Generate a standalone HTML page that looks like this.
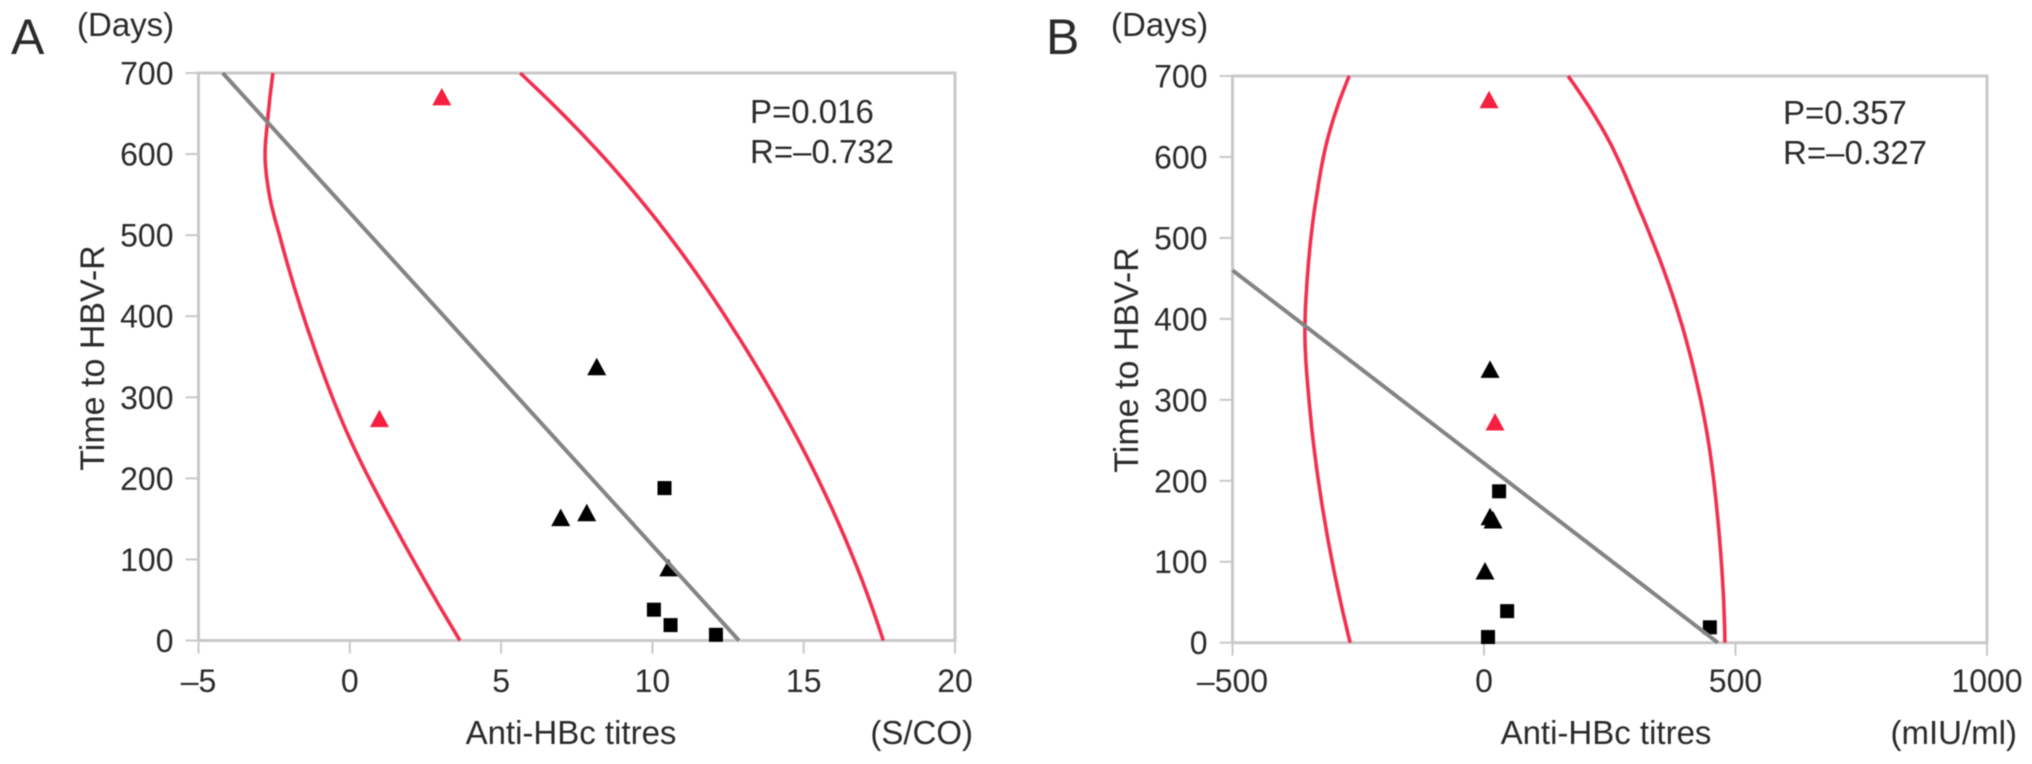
<!DOCTYPE html>
<html lang="en">
<head>
<meta charset="utf-8">
<title>Anti-HBc titres versus time to HBV-R</title>
<style>
  html, body { margin: 0; padding: 0; background: #fff; }
  body { width: 2032px; height: 764px; overflow: hidden; }
  svg { display: block; filter: blur(0.6px); }
  text { font-family: "Liberation Sans", sans-serif; font-size: 33px; fill: #2b2b2b; }
  .tick-label { font-size: 32px; }
</style>
</head>
<body>
<svg id="figure" width="2032" height="764" viewBox="0 0 2032 764" xmlns="http://www.w3.org/2000/svg">
  <rect width="2032" height="764" fill="#fff"/>
  <g id="panel-a">
    <text x="11" y="54" style="font-size:50px">A</text>
    <text x="77" y="36">(Days)</text>
    <text transform="translate(104,358) rotate(-90)" text-anchor="middle" style="font-size:34px">Time to HBV-R</text>
    <text x="571" y="744" text-anchor="middle">Anti-HBc titres</text>
    <text x="973" y="744" text-anchor="end">(S/CO)</text>
    <text x="750" y="123">P=0.016</text>
    <text x="750" y="163">R=–0.732</text>
  </g>
  <g id="panel-b">
    <text x="1046" y="54" style="font-size:50px">B</text>
    <text x="1111" y="36">(Days)</text>
    <text transform="translate(1138,360) rotate(-90)" text-anchor="middle" style="font-size:34px">Time to HBV-R</text>
    <text x="1606" y="744" text-anchor="middle">Anti-HBc titres</text>
    <text x="2017" y="744" text-anchor="end">(mIU/ml)</text>
    <text x="1783" y="124">P=0.357</text>
    <text x="1783" y="164">R=–0.327</text>
  </g>
</svg>
<script>
// Shared y axis ticks
const yTicks = [0, 100, 200, 300, 400, 500, 600, 700];

// Panel A values
const aXTicks = [-5, 0, 5, 10, 15, 20];
const aTriangleX = [8.16, 6.97, 7.83, 10.54];
const aTriangleY = [337, 151, 157, 89];
const aSquareX = [10.4, 10.05, 10.6, 12.1];
const aSquareY = [188, 38, 19, 7];
const aRedX = [3.04, 0.98];
const aRedY = [670, 273];
const aFitX = [-4.2, 12.86];
const aFitY = [700, 0];
const aLowerBandX = [-2.54, -2.72, -2.80, -2.66, -2.28, -1.38, 0.01, 1.73, 3.64];
const aLowerBandY = [700, 640, 600, 550, 494, 383, 248, 124, 0];
const aUpperBandX = [5.63, 8.37, 10.69, 12.90, 15.21, 17.63];
const aUpperBandY = [700, 597, 492, 371, 219, 0];

// Panel B values
const bXTicks = [-500, 0, 500, 1000];
const bTriangleX = [12, 12, 18, 2];
const bTriangleY = [337, 155, 151, 88];
const bSquareX = [30, 46, 8, 449];
const bSquareY = [187, 39, 7, 19];
const bRedX = [22, 10];
const bRedY = [272, 670];
const bFitX = [-500, 465];
const bFitY = [460, 0];
const bLowerBandX = [-268, -308, -334, -352, -356, -346, -316, -266];
const bLowerBandY = [700, 629, 547, 444, 390, 287, 148, 0];
const bUpperBandX = [167, 237, 310, 376, 435, 469, 479];
const bUpperBandY = [700, 633, 534, 427, 287, 123, 0];

const SVGNS = 'http://www.w3.org/2000/svg';
const AXIS_COLOR = '#c9c9c9';
const RED = '#f2304f';
const GREY = '#848484';

function make(parent, tag, attrs) {
  const el = document.createElementNS(SVGNS, tag);
  for (const k in attrs) el.setAttribute(k, attrs[k]);
  parent.appendChild(el);
  return el;
}

function formatTick(v) {
  return v < 0 ? '–' + Math.abs(v) : String(v);
}

// Cubic Hermite interpolation of x as a function of y, with non-uniform three-point tangents.
function smoothPath(xs, ys, sx, sy) {
  const n = xs.length;
  const h = [], d = [], m = [];
  for (let i = 0; i < n - 1; i++) {
    h.push(ys[i + 1] - ys[i]);
    d.push((xs[i + 1] - xs[i]) / h[i]);
  }
  m[0] = d[0] + (d[0] - d[1]) * h[0] / (h[0] + h[1]);
  for (let i = 1; i < n - 1; i++) {
    m[i] = (h[i] * d[i - 1] + h[i - 1] * d[i]) / (h[i - 1] + h[i]);
  }
  m[n - 1] = d[n - 2] + (d[n - 2] - d[n - 3]) * h[n - 2] / (h[n - 2] + h[n - 3]);

  let path = 'M' + sx(xs[0]).toFixed(1) + ' ' + sy(ys[0]).toFixed(1);
  for (let i = 0; i < n - 1; i++) {
    for (let s = 1; s <= 12; s++) {
      const t = s / 12, t2 = t * t, t3 = t2 * t;
      const x = (2 * t3 - 3 * t2 + 1) * xs[i] + (t3 - 2 * t2 + t) * h[i] * m[i]
              + (-2 * t3 + 3 * t2) * xs[i + 1] + (t3 - t2) * h[i] * m[i + 1];
      const y = ys[i] + t * h[i];
      path += ' L' + sx(x).toFixed(1) + ' ' + sy(y).toFixed(1);
    }
  }
  return path;
}

function drawChart(g, box, xTicks, series) {
  const xMin = xTicks[0], xMax = xTicks[xTicks.length - 1];
  const yMin = yTicks[0], yMax = yTicks[yTicks.length - 1];
  const sx = v => box.left + (v - xMin) / (xMax - xMin) * (box.right - box.left);
  const sy = v => box.bottom - (v - yMin) / (yMax - yMin) * (box.bottom - box.top);

  // Plot frame
  const frame = make(g, 'path', { d: 'M' + box.left + ' ' + box.bottom + ' V' + box.top + ' H' + box.right + ' V' + box.bottom + ' H' + box.left, fill: 'none', stroke: AXIS_COLOR, 'stroke-width': 3 });
  
  

  yTicks.forEach(v => {
    const tick = make(g, 'line', { x1: box.left - 13, x2: box.left, y1: sy(v), y2: sy(v), stroke: AXIS_COLOR, 'stroke-width': 2 });
    
    
    const label = make(g, 'text', { x: box.left - 25, y: sy(v) + box.yLabelOffset, 'text-anchor': 'end', class: 'tick-label' });
    label.textContent = formatTick(v);
    
    
  });

  xTicks.forEach(v => {
    const tick = make(g, 'line', { x1: sx(v), x2: sx(v), y1: box.bottom, y2: box.bottom + 13, stroke: AXIS_COLOR, 'stroke-width': 2 });
    
    
    const label = make(g, 'text', { x: sx(v), y: 692, 'text-anchor': 'middle', class: 'tick-label' });
    label.textContent = formatTick(v);
    
    
  });

  const lower = make(g, 'path', { d: smoothPath(series.lowerX, series.lowerY, sx, sy), fill: 'none', stroke: RED, 'stroke-width': 3.6 });
  
  

  const upper = make(g, 'path', { d: smoothPath(series.upperX, series.upperY, sx, sy), fill: 'none', stroke: RED, 'stroke-width': 3.6 });
  
  

  series.triX.forEach((x, i) => {
    const cx = sx(x), cy = sy(series.triY[i]);
    const mark = make(g, 'path', { d: 'M' + cx + ' ' + (cy - 9.5) + ' L' + (cx + 9.5) + ' ' + (cy + 8) + ' L' + (cx - 9.5) + ' ' + (cy + 8) + ' Z', fill: '#000' });
    
    
  });

  series.sqX.forEach((x, i) => {
    const cx = sx(x), cy = sy(series.sqY[i]);
    const mark = make(g, 'rect', { x: cx - 7, y: cy - 7, width: 14, height: 14, fill: '#000' });
    
    
  });

  series.redX.forEach((x, i) => {
    const cx = sx(x), cy = sy(series.redY[i]);
    const mark = make(g, 'path', { d: 'M' + cx + ' ' + (cy - 9.5) + ' L' + (cx + 9.5) + ' ' + (cy + 8) + ' L' + (cx - 9.5) + ' ' + (cy + 8) + ' Z', fill: '#f5203f' });
    
    
  });

  const fit = make(g, 'line', { x1: sx(series.fitX[0]), y1: sy(series.fitY[0]), x2: sx(series.fitX[1]), y2: sy(series.fitY[1]), stroke: GREY, 'stroke-width': 4 });
  
  
}

drawChart(document.getElementById('panel-a'),
  { left: 198.5, right: 955, top: 73, bottom: 640.5, yLabelOffset: 11.5 },
  aXTicks,
  { lowerX: aLowerBandX, lowerY: aLowerBandY, upperX: aUpperBandX, upperY: aUpperBandY,
    triX: aTriangleX, triY: aTriangleY, sqX: aSquareX, sqY: aSquareY,
    redX: aRedX, redY: aRedY, fitX: aFitX, fitY: aFitY });

drawChart(document.getElementById('panel-b'),
  { left: 1232.5, right: 1987, top: 76, bottom: 642.7, yLabelOffset: 11.5 },
  bXTicks,
  { lowerX: bLowerBandX, lowerY: bLowerBandY, upperX: bUpperBandX, upperY: bUpperBandY,
    triX: bTriangleX, triY: bTriangleY, sqX: bSquareX, sqY: bSquareY,
    redX: bRedX, redY: bRedY, fitX: bFitX, fitY: bFitY });
</script>
</body>
</html>
